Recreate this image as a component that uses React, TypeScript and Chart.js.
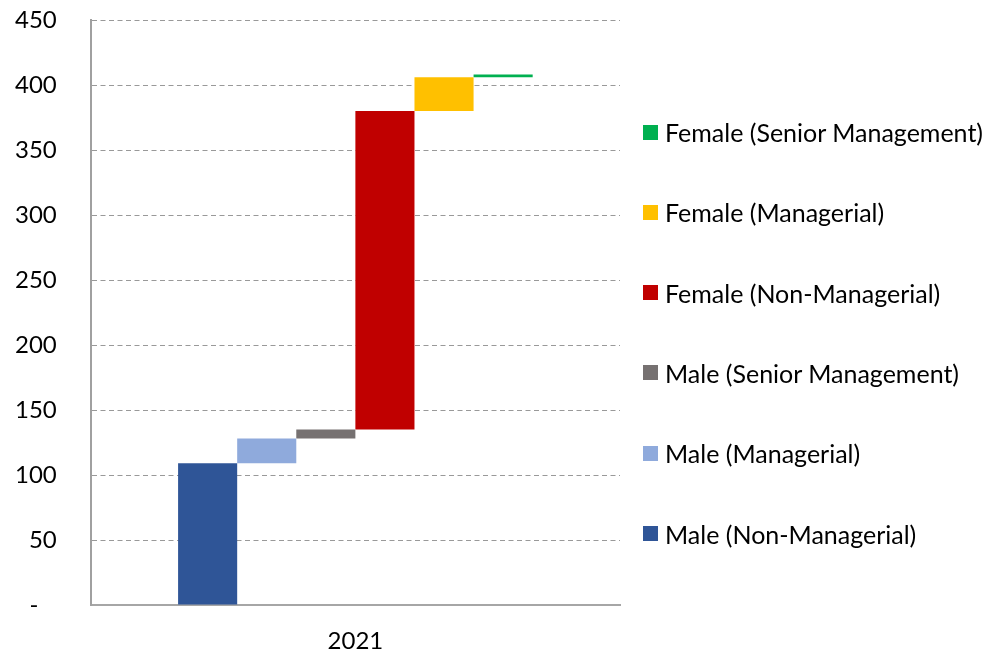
import React, { useEffect, useRef } from "react";
import { Chart, registerables } from "chart.js";

Chart.register(...registerables);

const categories = ["2021"];
const seriesNames = [
  "Male (Non-Managerial)",
  "Male (Managerial)",
  "Male (Senior Management)",
  "Female (Non-Managerial)",
  "Female (Managerial)",
  "Female (Senior Management)",
];
const seriesValues = [109, 19, 7, 245, 26, 2];
const seriesColors = ["#2F5597", "#8FAADC", "#767171", "#C00000", "#FFC000", "#00B050"];
const yTickValues = [0, 50, 100, 150, 200, 250, 300, 350, 400, 450];

const FONT = "Lato";
const TICK_SIZE = 24;
const LEGEND_SIZE = 25;
const Y_PAD = 34;
const X_PAD = 24;

export default function App() {
  const canvasRef = useRef<HTMLCanvasElement | null>(null);

  useEffect(() => {
    if (!canvasRef.current) return;
    let running = 0;
    const datasets = seriesNames.map((name, i) => {
      const start = running;
      running += seriesValues[i];
      return {
        label: name,
        data: [[start, running]] as any,
        backgroundColor: seriesColors[i],
        borderWidth: 0,
        categoryPercentage: 0.67,
        barPercentage: 1.0,
      };
    });

    const chart = new Chart(canvasRef.current, {
      type: "bar",
      data: { labels: categories, datasets },
      options: {
        animation: false,
        responsive: true,
        maintainAspectRatio: false,
        layout: { padding: { left: 15, right: 370, top: 20, bottom: 2 } },
        plugins: {
          legend: { display: false },
          tooltip: { enabled: false },
        },
        scales: {
          x: {
            grid: { display: false, drawTicks: false },
            border: { display: true, color: "#a6a6a6", width: 2 },
            afterFit: (axis: any) => {
              axis.height -= X_PAD;
            },
            ticks: {
              color: "#000",
              padding: X_PAD,
              font: { family: FONT, size: TICK_SIZE, lineHeight: 1 },
            },
          },
          y: {
            min: 0,
            max: 450,
            afterBuildTicks: (axis: any) => {
              axis.ticks = yTickValues.map((v) => ({ value: v }));
            },
            afterFit: (axis: any) => {
              axis.paddingTop = 0;
              axis.paddingBottom = 0;
              axis.width -= Y_PAD;
            },
            grid: {
              drawTicks: false,
              color: (ctx: any) => (ctx.tick && ctx.tick.value === 0 ? "rgba(0,0,0,0)" : "#999999"),
              lineWidth: 1,
            },
            border: { display: true, color: "#a0a0a0", width: 2, dash: [5, 3.5] },
            ticks: {
              color: "#000",
              padding: Y_PAD,
              font: { family: FONT, size: TICK_SIZE, lineHeight: 1 },
              callback: (v: any) => (Number(v) === 0 ? "-   " : String(v)),
            },
          },
        },
      },
    });
    return () => chart.destroy();
  }, []);

  const legendItems = seriesNames
    .map((name, i) => ({ name, color: seriesColors[i] }))
    .reverse();

  return (
    <div style={{ position: "fixed", left: 0, top: 0, width: 990, height: 655, background: "#fff" }}>
      <canvas ref={canvasRef} />
      {legendItems.map((it, i) => {
        const center = 132 + i * 80.3;
        return (
          <div
            key={it.name}
            style={{
              position: "absolute",
              left: 643,
              top: center - 15,
              height: 30,
              display: "flex",
              alignItems: "center",
              whiteSpace: "nowrap",
              fontFamily: FONT,
              fontSize: LEGEND_SIZE,
              color: "#000",
            }}
          >
            <span style={{ display: "inline-block", width: 15, height: 15, background: it.color, marginRight: 7 }} />
            <span>{it.name}</span>
          </div>
        );
      })}
    </div>
  );
}
